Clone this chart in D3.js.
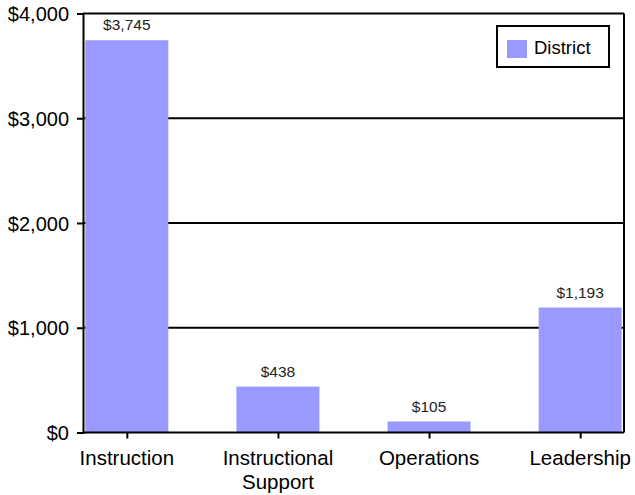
<!DOCTYPE html>
<html>
<head>
	<title>District Spending</title>
	<script src="https://d3js.org/d3.v7.min.js" charset="utf-8"></script>
	<style>
		body { margin: 0; background: #fff; }
		text { font-family: "Liberation Sans", Arial, sans-serif; }
	</style>
</head>
<body>
	<svg width="635" height="495"></svg>
	<script>
		const categories = [["Instruction"], ["Instructional", "Support"], ["Operations"], ["Leadership"]];
		const districtValues = [3745, 438, 105, 1193];
		const yTicks = [0, 1000, 2000, 3000, 4000];
		const seriesName = "District";

		const plotLeft = 83, plotRight = 624, plotTop = 13.5, plotBottom = 432.5;
		const barColor = "#9999ff";

		const svg = d3.select('svg');

		const x = d3.scalePoint()
			.domain(categories.map(d => d.join(" ")))
			.range([plotLeft, plotRight])
			.padding(0.29);

		const y = d3.scaleLinear()
			.domain([0, 4000])
			.range([plotBottom, plotTop]);

		const fmt = d3.format("$,");

		// grid lines (black, behind bars)
		svg.append('g')
			.selectAll('line')
			.data(yTicks.slice(1))
			.enter()
			.append('line')
			.attr('x1', plotLeft).attr('x2', plotRight)
			.attr('y1', d => y(d)).attr('y2', d => y(d))
			.attr('stroke', '#000')
			.attr('stroke-width', 2);

		// right border
		svg.append('line')
			.attr('x1', plotRight).attr('x2', plotRight)
			.attr('y1', plotTop).attr('y2', plotBottom)
			.attr('stroke', '#000').attr('stroke-width', 2);

		// bars
		const barW = 83;
		svg.append('g')
			.selectAll('rect')
			.data(districtValues)
			.enter()
			.append('rect')
			.attr('x', (d, i) => x(categories[i].join(" ")) - barW / 2)
			.attr('y', d => y(d))
			.attr('width', barW)
			.attr('height', d => plotBottom - y(d))
			.attr('fill', barColor);

		// value labels
		svg.append('g')
			.selectAll('text')
			.data(districtValues)
			.enter()
			.append('text')
			.attr('x', (d, i) => x(categories[i].join(" ")))
			.attr('y', d => y(d) - 10)
			.attr('text-anchor', 'middle')
			.attr('font-size', 15.5)
			.attr('fill', '#222')
			.text(d => fmt(d));

		// y axis
		const yAxis = svg.append('g')
			.attr('transform', `translate(${plotLeft},0)`)
			.call(d3.axisLeft(y).tickValues(yTicks).tickFormat(fmt).tickSize(6).tickPadding(8));
		yAxis.select('.domain').attr('stroke-width', 2);
		yAxis.selectAll('.tick line').attr('stroke-width', 2);
		yAxis.selectAll('text').attr('font-size', 20).attr('fill', '#000').attr('dy', '0.36em')
			.attr('font-family', '"Liberation Sans", Arial, sans-serif');

		// x axis
		const xAxis = svg.append('g')
			.attr('transform', `translate(0,${plotBottom})`)
			.call(d3.axisBottom(x).tickSize(6).tickSizeOuter(0).tickFormat(''));
		xAxis.select('.domain').attr('stroke-width', 2).attr('d', `M${plotLeft},0H${plotRight}`);
		xAxis.selectAll('.tick line').attr('stroke-width', 2);

		svg.append('g')
			.selectAll('text')
			.data(categories)
			.enter()
			.append('text')
			.attr('x', d => x(d.join(" ")))
			.attr('y', plotBottom + 32.5)
			.attr('text-anchor', 'middle')
			.attr('font-size', 20.5)
			.attr('fill', '#000')
			.each(function (d) {
				const t = d3.select(this);
				d.forEach((line, i) => {
					t.append('tspan')
						.attr('x', x(d.join(" ")))
						.attr('dy', i === 0 ? 0 : 24)
						.text(line);
				});
			});

		// legend
		const legend = svg.append('g').attr('transform', 'translate(497,26)');
		legend.append('rect')
			.attr('width', 112).attr('height', 41)
			.attr('fill', '#fff').attr('stroke', '#000').attr('stroke-width', 2);
		legend.append('rect')
			.attr('x', 10).attr('y', 14).attr('width', 20).attr('height', 18)
			.attr('fill', barColor);
		legend.append('text')
			.attr('x', 37).attr('y', 28)
			.attr('font-size', 18.5)
			.attr('fill', '#000')
			.text(seriesName);
	</script>
</body>
</html>
